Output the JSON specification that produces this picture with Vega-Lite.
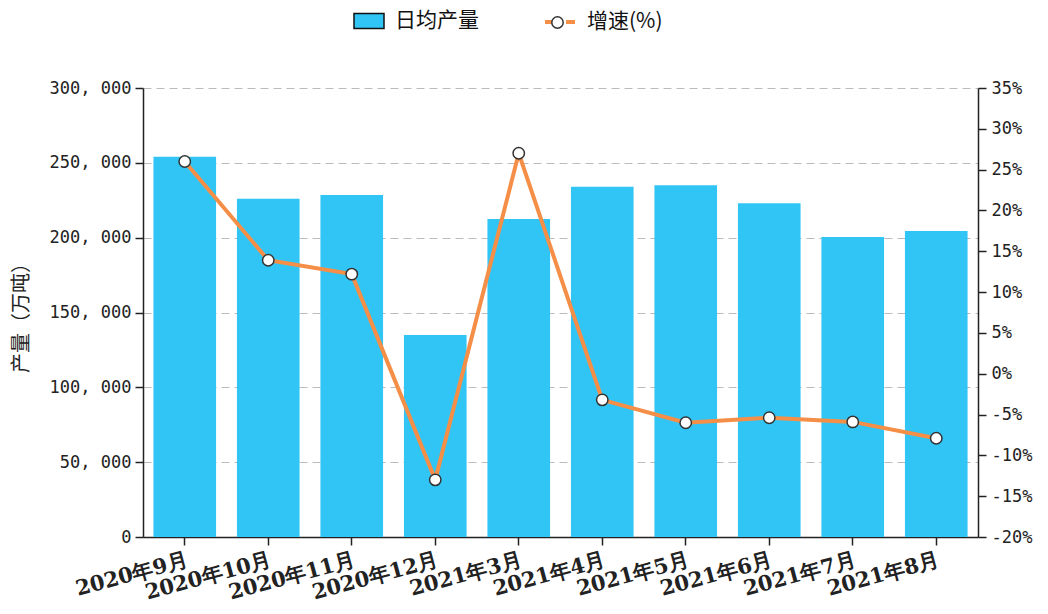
{
  "$schema": "https://vega.github.io/schema/vega-lite/v6.json",
  "width": 835,
  "height": 449,
  "autosize": {"type": "none"},
  "padding": {"left": 143, "top": 88, "right": 70, "bottom": 77},
  "background": "white",
  "config": {"view": {"stroke": null}, "font": "Noto Sans CJK SC"},
  "data": {
    "values": [
      {"month": "2020年9月", "prod": 254000, "growth": 26.0},
      {"month": "2020年10月", "prod": 226000, "growth": 13.9},
      {"month": "2020年11月", "prod": 228500, "growth": 12.2},
      {"month": "2020年12月", "prod": 135000, "growth": -13.0},
      {"month": "2021年3月", "prod": 212500, "growth": 27.0},
      {"month": "2021年4月", "prod": 234000, "growth": -3.2},
      {"month": "2021年5月", "prod": 235000, "growth": -6.0},
      {"month": "2021年6月", "prod": 223000, "growth": -5.4},
      {"month": "2021年7月", "prod": 200500, "growth": -5.9},
      {"month": "2021年8月", "prod": 204500, "growth": -7.9}
    ]
  },
  "encoding": {
    "x": {
      "field": "month", "type": "ordinal", "sort": null,
      "scale": {"paddingInner": 0.25, "paddingOuter": 0.125},
      "axis": {
        "title": null, "labelAngle": -15, "labelFont": "DejaVu Serif", "labelFontWeight": "bold",
        "labelFontSize": 21, "labelColor": "#222", "domainColor": "#222", "domainWidth": 1.5,
        "tickColor": "#222", "tickWidth": 1.5, "tickSize": 8, "labelPadding": 4
      }
    }
  },
  "layer": [
    {
      "mark": {"type": "bar"},
      "encoding": {
        "y": {
          "field": "prod", "type": "quantitative",
          "scale": {"domain": [0, 300000], "nice": false},
          "axis": {
            "values": [0, 50000, 100000, 150000, 200000, 250000, 300000],
            "labelExpr": "replace(format(datum.value, ','), ',', ', ')",
            "grid": true, "gridDash": [8, 5], "gridColor": "#bbbbbb", "gridWidth": 1,
            "domainColor": "#222", "domainWidth": 1.5, "tickColor": "#222", "tickWidth": 1.5, "tickSize": 8,
            "labelFont": "DejaVu Sans Mono", "labelFontSize": 17, "labelColor": "#222", "labelPadding": 4,
            "title": "产量（万吨）", "titleFont": "Noto Sans CJK SC", "titleFontSize": 20,
            "titleFontWeight": "normal", "titleColor": "#222", "titlePadding": 18
          }
        },
        "fill": {
          "datum": "日均产量", "type": "nominal",
          "scale": {"domain": ["日均产量"], "range": ["#31c5f5"]},
          "legend": {
            "orient": "none", "legendX": 210, "legendY": -83, "title": null,
            "symbolType": "M-1,-0.5H1V0.5H-1Z", "symbolSize": 900,
            "symbolStrokeColor": "#111", "symbolStrokeWidth": 1.5, "symbolOpacity": 1,
            "labelFont": "Noto Sans CJK SC", "labelFontSize": 21, "labelColor": "#111", "labelOffset": 10
          }
        }
      }
    },
    {
      "encoding": {
        "y": {
          "field": "growth", "type": "quantitative",
          "scale": {"domain": [-20, 35], "nice": false},
          "axis": {
            "orient": "right", "title": null,
            "values": [-20, -15, -10, -5, 0, 5, 10, 15, 20, 25, 30, 35],
            "labelExpr": "datum.value + '%'", "grid": false,
            "domainColor": "#222", "domainWidth": 1.5, "tickColor": "#222", "tickWidth": 1.5, "tickSize": 8,
            "labelFont": "DejaVu Sans Mono", "labelFontSize": 17, "labelColor": "#222", "labelPadding": 5
          }
        }
      },
      "layer": [
        {
          "mark": {"type": "line", "strokeWidth": 4},
          "encoding": {
            "stroke": {
              "datum": "增速(%)", "type": "nominal",
              "scale": {"domain": ["增速(%)"], "range": ["#f58f47"]},
              "legend": {
                "orient": "none", "legendX": 400, "legendY": -83, "title": null,
                "symbolType": "M-1,0H-0.4M0.4,0H1", "symbolSize": 900, "symbolStrokeWidth": 4,
                "labelFont": "Noto Sans CJK SC", "labelFontSize": 21, "labelColor": "#111", "labelOffset": 10
              }
            }
          }
        },
        {
          "mark": {"type": "point", "shape": "circle", "filled": true, "fill": "white", "stroke": "#333", "strokeWidth": 1.5, "size": 130},
          "encoding": {
            "opacity": {
              "datum": "圆点", "type": "nominal",
              "scale": {"domain": ["圆点"], "range": [1]},
              "legend": {
                "orient": "none", "legendX": 404, "legendY": -76, "title": null,
                "symbolType": "circle", "symbolSize": 130,
                "labelExpr": "''", "labelFontSize": 21, "labelOffset": 0,
                "encode": {
                  "symbols": {
                    "update": {
                      "fill": {"value": "white"},
                      "stroke": {"value": "#333"},
                      "strokeWidth": {"value": 1.5},
                      "opacity": {"value": 1}
                    }
                  }
                }
              }
            }
          }
        }
      ]
    }
  ],
  "resolve": {"scale": {"y": "independent"}}
}
